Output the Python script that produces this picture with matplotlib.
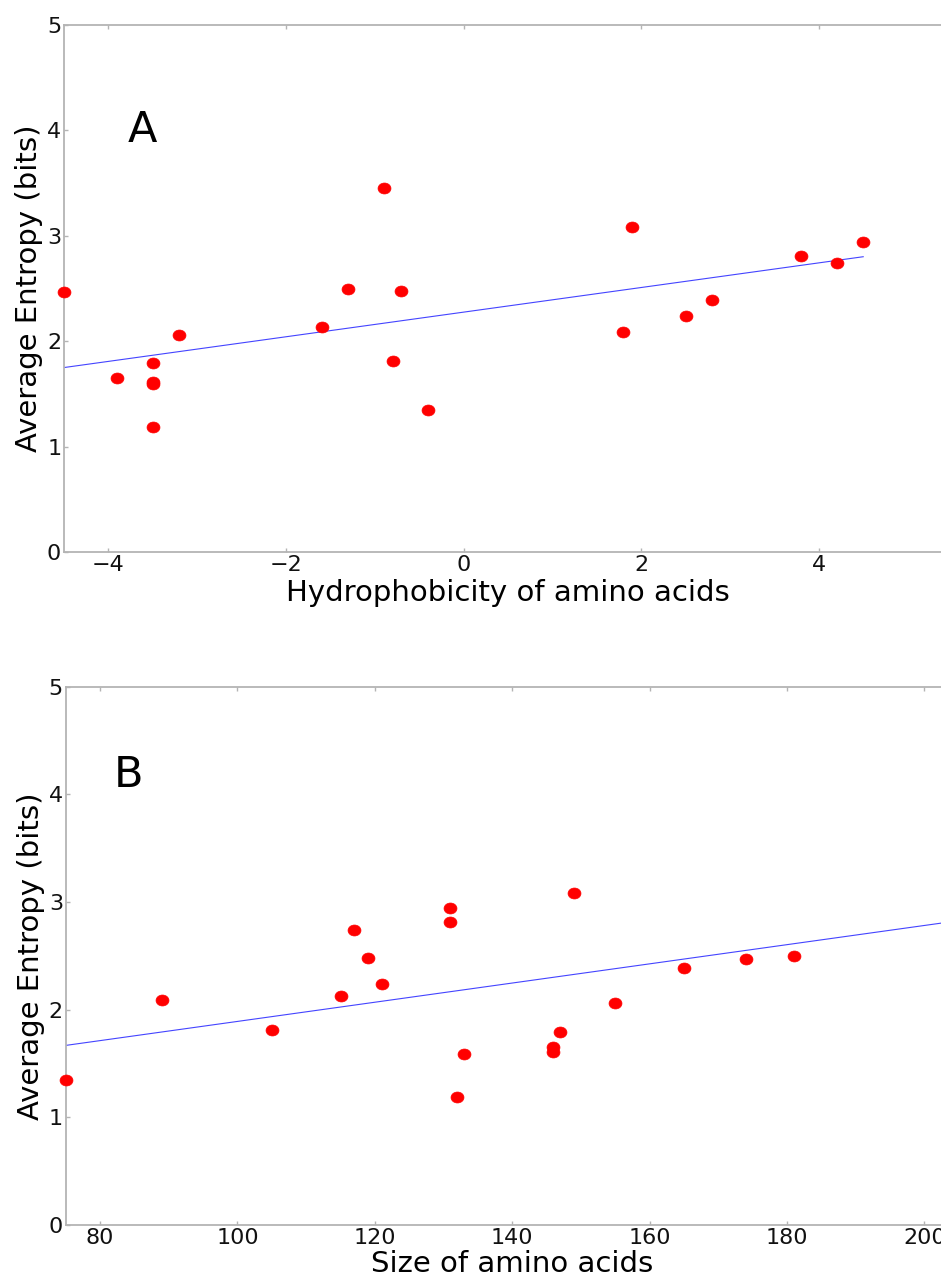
import numpy as np
import matplotlib
matplotlib.use("Agg")
import matplotlib.pyplot as plt
from matplotlib.path import Path

# Amino acids and their properties
amino_acids = ["R", "K", "E", "D", "Q", "N", "H", "P", "Y", "W",
               "S", "T", "G", "A", "M", "C", "F", "L", "V", "I"]
hydrophobicity = [-4.5, -3.9, -3.5, -3.5, -3.5, -3.5, -3.2, -1.6, -1.3, -0.9,
                  -0.8, -0.7, -0.4, 1.8, 1.9, 2.5, 2.8, 3.8, 4.2, 4.5]
size = [174, 146, 147, 133, 146, 132, 155, 115, 181, 204,
        105, 119, 75, 89, 149, 121, 165, 131, 117, 131]
entropy = [2.47, 1.65, 1.79, 1.59, 1.61, 1.19, 2.06, 2.13, 2.50, 3.45,
           1.81, 2.48, 1.35, 2.09, 3.08, 2.24, 2.39, 2.81, 2.74, 2.94]

y_ticks = [0, 1, 2, 3, 4, 5]
hydro_ticks = [-4, -2, 0, 2, 4]
size_ticks = [80, 100, 120, 140, 160, 180, 200]

W, H = 941, 1278
fig = plt.figure(figsize=(W / 100, H / 100), dpi=100)

spine_color = "#b4b4b4"
label_size = 21
tick_size = 16

# slightly wide oval marker
circle = Path.unit_circle()
oval = Path(circle.vertices * np.array([1.18, 1.0]), circle.codes)


def style_axes(ax):
    for s in ax.spines.values():
        s.set_color(spine_color)
        s.set_linewidth(1.3)
    ax.tick_params(direction="in", length=3, width=1, color=spine_color,
                   top=True, right=True, labelsize=tick_size,
                   labelcolor="#111111")
    ax.tick_params(axis="x", pad=2)
    ax.tick_params(axis="y", pad=2)
    ax.set_ylim(0, 5)
    ax.set_yticks(y_ticks)
    ax.set_ylabel("Average Entropy (bits)", fontsize=label_size, labelpad=3)


def scatter_with_fit(ax, x, y):
    x = np.asarray(x, dtype=float)
    y = np.asarray(y, dtype=float)
    slope, intercept = np.polyfit(x, y, 1)
    xs = np.array([x.min(), x.max()])
    ax.plot(xs, slope * xs + intercept, color="#4444ff", linewidth=0.8, zorder=2)
    ax.plot(x, y, linestyle="none", marker=oval, color="red",
            markeredgecolor="red", markeredgewidth=0.5, markersize=9.3,
            clip_on=False, zorder=3)


# Panel A: hydrophobicity
axA = fig.add_axes([64 / W, (H - 552) / H, (952 - 64) / W, (552 - 25) / H])
style_axes(axA)
scatter_with_fit(axA, hydrophobicity, entropy)
axA.set_xlim(-4.5, 5.5)
axA.set_xticks(hydro_ticks)
axA.set_xlabel("Hydrophobicity of amino acids", fontsize=label_size, labelpad=3)
axA.text(-3.78, 3.89, "A", fontsize=31)

# Panel B: size
axB = fig.add_axes([65.7 / W, (H - 1225) / H, (958.8 - 65.7) / W, (1225 - 686.7) / H])
style_axes(axB)
scatter_with_fit(axB, size, entropy)
axB.set_xlim(75, 205)
axB.set_xticks(size_ticks)
axB.set_xlabel("Size of amino acids", fontsize=label_size, labelpad=1.5)
axB.text(82.0, 4.07, "B", fontsize=31)

fig.savefig("out.png", dpi=100)
